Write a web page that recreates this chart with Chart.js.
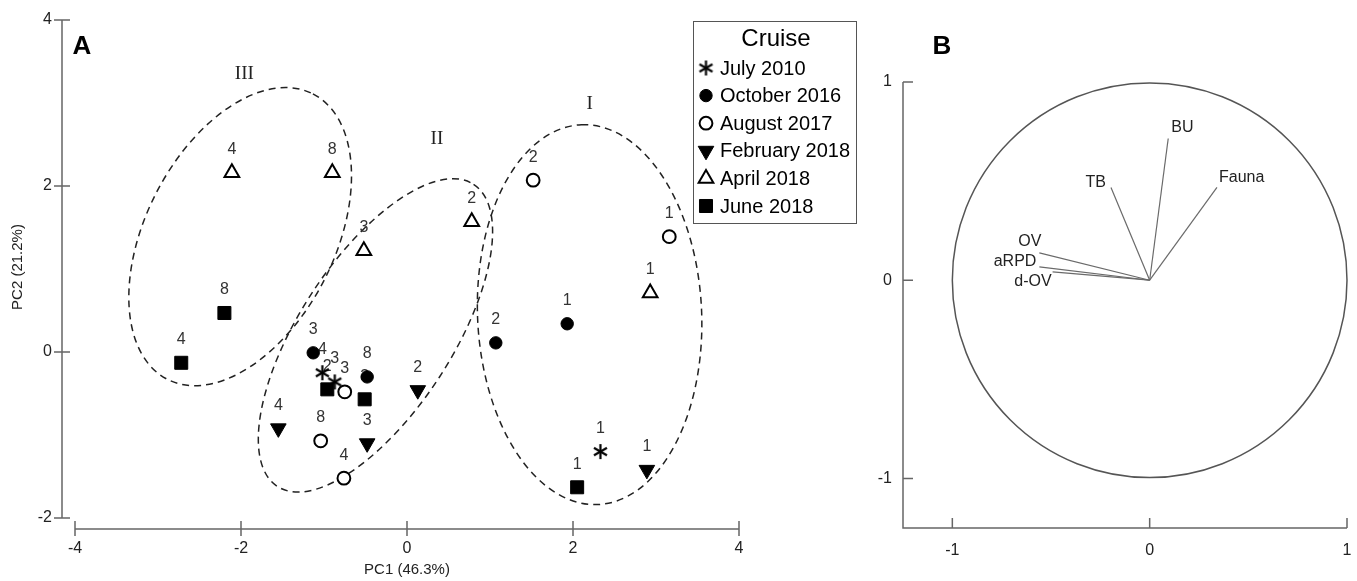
<!DOCTYPE html>
<html>
<head>
<meta charset="utf-8"/>
<style>
  html,body{margin:0;padding:0;background:#fff;}
  #wrap{position:relative;width:1357px;height:581px;overflow:hidden;}
  #boxA{position:absolute;left:0;top:0;width:880px;height:581px;}
  #boxB{position:absolute;left:850px;top:0;width:507px;height:581px;}
</style>
</head>
<body>
<div id="wrap">
  <div id="boxA"><canvas id="scores"></canvas></div>
  <div id="boxB"><canvas id="loadings"></canvas></div>
</div>
<script src="https://cdn.jsdelivr.net/npm/chart.js@4.4.0/dist/chart.umd.min.js"></script>
<script>
// ---- panel A: PCA scores by cruise (station numbers as labels)
const cruises = ["July 2010", "October 2016", "August 2017", "February 2018", "April 2018", "June 2018"];

const julX = [2.33, -1.02, -0.87];
const julY = [-1.20, -0.25, -0.36];
const julSt = ["1", "4", "3"];

const octX = [1.93, 1.07, -1.13, -0.48];
const octY = [0.34, 0.11, -0.01, -0.30];
const octSt = ["1", "2", "3", "8"];

const augX = [3.16, 1.52, -0.75, -0.76, -1.04];
const augY = [1.39, 2.07, -0.48, -1.52, -1.07];
const augSt = ["1", "2", "3", "4", "8"];

const febX = [2.89, 0.13, -0.48, -1.55];
const febY = [-1.42, -0.46, -1.10, -0.92];
const febSt = ["1", "2", "3", "4"];

const aprX = [2.93, 0.78, -0.52, -2.11, -0.90];
const aprY = [0.71, 1.57, 1.22, 2.16, 2.16];
const aprSt = ["1", "2", "3", "4", "8"];

const junX = [2.05, -0.96, -0.51, -2.72, -2.20];
const junY = [-1.63, -0.45, -0.57, -0.13, 0.47];
const junSt = ["1", "2", "3", "4", "8"];

// groups (dashed ellipses)
const groupNames = ["I", "II", "III"];
const groupCx = [2.20, -0.38, -2.01];
const groupCy = [0.45, 0.20, 1.39];
const groupA = [2.29, 2.17, 1.93];
const groupB = [1.35, 0.92, 1.14];
const groupAngle = [92.5, 57, 63];
const groupLabX = [2.20, 0.36, -1.96];
const groupLabY = [2.99, 2.57, 3.35];

const xTicksA = [-4, -2, 0, 2, 4];
const yTicksA = [-2, 0, 2, 4];

// ---- panel B: loadings
const varNames = ["BU", "TB", "Fauna", "OV", "aRPD", "d-OV"];
const varX = [0.094, -0.196, 0.341, -0.559, -0.559, -0.492];
const varY = [0.715, 0.468, 0.468, 0.138, 0.067, 0.042];

const xTicksB = [-1, 0, 1];
const yTicksB = [-1, 0, 1];

const FONT = "'Liberation Sans', Arial, sans-serif";

function asterisk(size, lw) {
  const c = document.createElement("canvas");
  c.width = c.height = size;
  const g = c.getContext("2d");
  g.strokeStyle = "#000"; g.lineWidth = lw;
  const m = size / 2, r = size / 2 - 1;
  [90, 30, 150].forEach(a => {
    const t = a * Math.PI / 180;
    g.beginPath();
    g.moveTo(m - r * Math.cos(t), m + r * Math.sin(t));
    g.lineTo(m + r * Math.cos(t), m - r * Math.sin(t));
    g.stroke();
  });
  return c;
}
const star = asterisk(17, 2.2);

const pts = (xs, ys) => xs.map((x, i) => ({x, y: ys[i]}));

const styleOf = [
  {pointStyle: star, pointRadius: 8, pointBackgroundColor: "#000", pointBorderColor: "#000", pointBorderWidth: 1, pointRotation: 0},
  {pointStyle: "circle", pointRadius: 6.2, pointBackgroundColor: "#000", pointBorderColor: "#000", pointBorderWidth: 1, pointRotation: 0},
  {pointStyle: "circle", pointRadius: 6.4, pointBackgroundColor: "#fff", pointBorderColor: "#000", pointBorderWidth: 2, pointRotation: 0},
  {pointStyle: "triangle", pointRadius: 9, pointBackgroundColor: "#000", pointBorderColor: "#000", pointBorderWidth: 1, pointRotation: 180},
  {pointStyle: "triangle", pointRadius: 8.5, pointBackgroundColor: "#fff", pointBorderColor: "#000", pointBorderWidth: 2, pointRotation: 0},
  {pointStyle: "rect", pointRadius: 9.2, pointBackgroundColor: "#000", pointBorderColor: "#000", pointBorderWidth: 1, pointRotation: 0},
];

const seriesX = [julX, octX, augX, febX, aprX, junX];
const seriesY = [julY, octY, augY, febY, aprY, junY];
const seriesSt = [julSt, octSt, augSt, febSt, aprSt, junSt];

const scoreSets = cruises.map((name, i) => Object.assign({
  label: name,
  data: pts(seriesX[i], seriesY[i]),
  stations: seriesSt[i],
  showLine: false,
  clip: false,
}, styleOf[i]));

const panelA = {
  id: "panelA",
  beforeDatasetsDraw(chart) {
    const ctx = chart.ctx, xs = chart.scales.x, ys = chart.scales.y;
    const px = xs.getPixelForValue(1) - xs.getPixelForValue(0);
    const py = ys.getPixelForValue(0) - ys.getPixelForValue(1);
    ctx.save();

    // ellipses
    ctx.strokeStyle = "#222"; ctx.lineWidth = 1.5; ctx.setLineDash([7, 5]);
    groupNames.forEach((g, i) => {
      ctx.beginPath();
      ctx.ellipse(xs.getPixelForValue(groupCx[i]), ys.getPixelForValue(groupCy[i]),
        groupA[i] * px, groupB[i] * py, -groupAngle[i] * Math.PI / 180, 0, Math.PI * 2);
      ctx.stroke();
    });
    ctx.setLineDash([]);
    ctx.fillStyle = "#222"; ctx.font = "19px 'Liberation Serif', 'Times New Roman', serif";
    ctx.textAlign = "center"; ctx.textBaseline = "middle";
    groupNames.forEach((g, i) => ctx.fillText(g, xs.getPixelForValue(groupLabX[i]), ys.getPixelForValue(groupLabY[i])));

    // axes (detached from plot area)
    const axX = xs.left - 13, axY = ys.bottom + 11;
    ctx.strokeStyle = "#666"; ctx.lineWidth = 1.5;
    ctx.beginPath();
    ctx.moveTo(axX, ys.getPixelForValue(yTicksA[yTicksA.length - 1]));
    ctx.lineTo(axX, ys.getPixelForValue(yTicksA[0]));
    ctx.moveTo(xs.getPixelForValue(xTicksA[0]), axY);
    ctx.lineTo(xs.getPixelForValue(xTicksA[xTicksA.length - 1]), axY);
    yTicksA.forEach(v => { const y = ys.getPixelForValue(v); ctx.moveTo(axX - 8, y); ctx.lineTo(axX + 8, y); });
    xTicksA.forEach(v => { const x = xs.getPixelForValue(v); ctx.moveTo(x, axY - 8); ctx.lineTo(x, axY + 7); });
    ctx.stroke();

    ctx.fillStyle = "#222"; ctx.font = "16px " + FONT;
    ctx.textAlign = "right";
    yTicksA.forEach(v => ctx.fillText(String(v), axX - 10, ys.getPixelForValue(v)));
    ctx.textAlign = "center";
    xTicksA.forEach(v => ctx.fillText(String(v), xs.getPixelForValue(v), axY + 20));
    ctx.font = "15px " + FONT;
    ctx.fillText("PC1 (46.3%)", (xs.left + xs.right) / 2, axY + 41);
    ctx.save();
    ctx.translate(18, (ys.top + ys.bottom) / 2 - 2);
    ctx.rotate(-Math.PI / 2);
    ctx.fillText("PC2 (21.2%)", 0, 0);
    ctx.restore();

    ctx.fillStyle = "#000"; ctx.font = "bold 26px " + FONT;
    ctx.fillText("A", xs.left + 7, ys.top + 27);

    // station labels
    ctx.fillStyle = "#333"; ctx.font = "16px " + FONT;
    chart.data.datasets.forEach((ds, i) => {
      chart.getDatasetMeta(i).data.forEach((el, j) => ctx.fillText(ds.stations[j], el.x, el.y - 23));
    });
    ctx.restore();
  },
  afterDraw(chart) {
    // legend box
    const ctx = chart.ctx;
    ctx.save();
    ctx.strokeStyle = "#555"; ctx.lineWidth = 1;
    ctx.strokeRect(693.5, 21.5, 163, 202);
    ctx.fillStyle = "#000"; ctx.textBaseline = "middle";
    ctx.textAlign = "center"; ctx.font = "24px " + FONT;
    ctx.fillText("Cruise", 776, 39);
    ctx.textAlign = "left"; ctx.font = "20px " + FONT;
    chart.data.datasets.forEach((ds, i) => {
      const y = 68 + i * 27.6;
      ctx.fillStyle = ds.pointBackgroundColor; ctx.strokeStyle = ds.pointBorderColor;
      ctx.lineWidth = ds.pointBorderWidth;
      Chart.helpers.drawPoint(ctx, {pointStyle: ds.pointStyle, rotation: ds.pointRotation,
        radius: ds.pointRadius, borderWidth: ds.pointBorderWidth}, 706, y);
      ctx.fillStyle = "#000";
      ctx.fillText(ds.label, 720, y + 1);
    });
    ctx.restore();
  }
};

new Chart(document.getElementById("scores"), {
  type: "scatter",
  data: {datasets: scoreSets},
  options: {
    responsive: true, maintainAspectRatio: false, animation: false, devicePixelRatio: 1,
    layout: {padding: {left: 75, right: 141, top: 20, bottom: 63}},
    scales: {
      x: {type: "linear", min: -4, max: 4, display: false},
      y: {type: "linear", min: -2, max: 4, display: false},
    },
    plugins: {legend: {display: false}, tooltip: {enabled: false}},
  },
  plugins: [panelA],
});

// ---- panel B
const labelPlace = {
  "BU": ["left", 3, -11], "TB": ["right", -5, -5], "Fauna": ["left", 2, -10],
  "OV": ["right", 2, -11], "aRPD": ["right", -3, -5], "d-OV": ["right", -1, 10],
};

const panelB = {
  id: "panelB",
  beforeDatasetsDraw(chart) {
    const ctx = chart.ctx, xs = chart.scales.x, ys = chart.scales.y;
    ctx.save();
    // unit correlation circle
    const r = xs.getPixelForValue(1) - xs.getPixelForValue(0);
    ctx.strokeStyle = "#555"; ctx.lineWidth = 1.5;
    ctx.beginPath();
    ctx.arc(xs.getPixelForValue(0), ys.getPixelForValue(0), r, 0, Math.PI * 2);
    ctx.stroke();

    // L-shaped axes
    ctx.strokeStyle = "#666"; ctx.lineWidth = 1.5;
    ctx.beginPath();
    ctx.moveTo(xs.left, ys.getPixelForValue(1));
    ctx.lineTo(xs.left, ys.bottom);
    ctx.lineTo(xs.getPixelForValue(1), ys.bottom);
    yTicksB.forEach(v => { const y = ys.getPixelForValue(v); ctx.moveTo(xs.left, y); ctx.lineTo(xs.left + 10, y); });
    xTicksB.forEach(v => { const x = xs.getPixelForValue(v); ctx.moveTo(x, ys.bottom); ctx.lineTo(x, ys.bottom - 10); });
    ctx.stroke();

    ctx.fillStyle = "#222"; ctx.font = "16px " + FONT; ctx.textBaseline = "middle";
    ctx.textAlign = "right";
    yTicksB.forEach(v => ctx.fillText(String(v), xs.left - 11, ys.getPixelForValue(v)));
    ctx.textAlign = "center";
    xTicksB.forEach(v => ctx.fillText(String(v), xs.getPixelForValue(v), ys.bottom + 23));

    ctx.fillStyle = "#000"; ctx.font = "bold 26px " + FONT;
    ctx.fillText("B", xs.left + 39, 47);
    ctx.restore();
  },
  afterDatasetsDraw(chart) {
    const ctx = chart.ctx;
    ctx.save();
    ctx.fillStyle = "#222"; ctx.font = "16px " + FONT; ctx.textBaseline = "middle";
    chart.data.datasets.forEach((ds, i) => {
      const tip = chart.getDatasetMeta(i).data[1];
      const [al, dx, dy] = labelPlace[ds.label];
      ctx.textAlign = al;
      ctx.fillText(ds.label, tip.x + dx, tip.y + dy);
    });
    ctx.restore();
  }
};

new Chart(document.getElementById("loadings"), {
  type: "scatter",
  data: {
    datasets: varNames.map((n, i) => ({
      label: n,
      data: [{x: 0, y: 0}, {x: varX[i], y: varY[i]}],
      showLine: true, borderColor: "#6a6a6a", borderWidth: 1.2, pointRadius: 0, clip: false,
    })),
  },
  options: {
    responsive: true, maintainAspectRatio: false, animation: false, devicePixelRatio: 1,
    layout: {padding: {left: 53, right: 10, top: 82, bottom: 53}},
    scales: {
      x: {type: "linear", min: -1.25, max: 1, display: false},
      y: {type: "linear", min: -1.25, max: 1, display: false},
    },
    plugins: {legend: {display: false}, tooltip: {enabled: false}},
  },
  plugins: [panelB],
});
</script>
</body>
</html>
